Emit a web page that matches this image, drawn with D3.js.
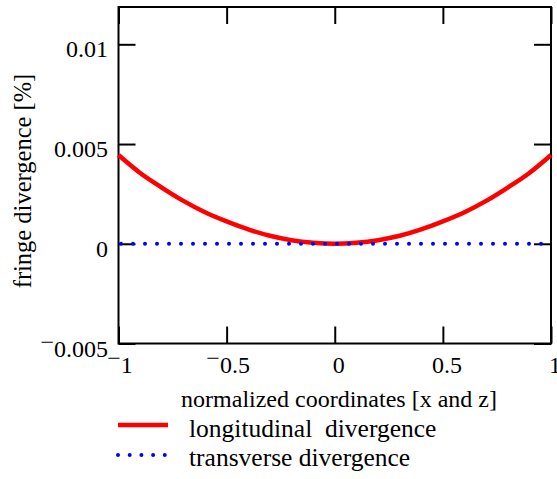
<!DOCTYPE html>
<html><head><meta charset="utf-8"><script src="https://cdn.jsdelivr.net/npm/d3@7"></script></head>
<body style="margin:0">
<svg width="557" height="479"></svg>
<script>
// normalized coordinate
const xValues = [-1, -0.9, -0.8, -0.7, -0.6, -0.5, -0.4, -0.3, -0.2, -0.1, 0,
                 0.1, 0.2, 0.3, 0.4, 0.5, 0.6, 0.7, 0.8, 0.9, 1];
// fringe divergence [%]
const longitudinal = [0.00445, 0.00355, 0.00282, 0.00215, 0.00158, 0.00112, 0.00072, 0.0004, 0.00018, 0.00005, 0,
                      0.00005, 0.00018, 0.0004, 0.00072, 0.00112, 0.00158, 0.00215, 0.00282, 0.00355, 0.00445];
const transverse = [0, 0, 0, 0, 0, 0, 0, 0, 0, 0, 0,
                    0, 0, 0, 0, 0, 0, 0, 0, 0, 0];

const xTicks = [-1, -0.5, 0, 0.5, 1];
const xTickLabels = ["-1", "-0.5", "0", "0.5", "1"];
const yTicks = [-0.005, 0, 0.005, 0.01];
const yTickLabels = ["-0.005", "0", "0.005", "0.01"];

const plotLeft = 118.5, plotRight = 551, plotTop = 7, plotBottom = 343.5;

const svg = d3.select("svg");

const x = d3.scaleLinear().domain([-1, 1]).range([plotLeft, plotRight]);
const y = d3.scaleLinear().domain([-0.005, 0.01187]).range([plotBottom, plotTop]);

// all text in one serif face
function serif(t, size) {
    return t.style("font-family", `"Liberation Serif"`).style("font-size", (size || 24) + "px");
}

// tick labels with a raised minus sign, the way the original draws them
function minusLabel(sel, labels) {
    sel.selectAll(".tick text").each(function (d, i) {
        const t = d3.select(this).text("");
        const s = labels[i];
        if (s[0] === "-") {
            t.append("tspan").attr("dy", -7).text("\u2212");
            t.append("tspan").attr("dy", 7).text(s.slice(1));
        } else {
            t.text(s);
        }
    });
}

// axes, ticks pointing inward
const gLeft = svg.append("g")
    .attr("transform", `translate(${plotLeft},0)`)
    .call(d3.axisLeft(y).tickValues(yTicks).tickSize(-17).tickPadding(10.5).tickFormat((d, i) => yTickLabels[i]));
gLeft.selectAll(".tick text").attr("dy", null).attr("y", 12.5);
minusLabel(gLeft, yTickLabels);

const gBottom = svg.append("g")
    .attr("transform", `translate(0,${plotBottom})`)
    .call(d3.axisBottom(x).tickValues(xTicks).tickSize(-17).tickFormat((d, i) => xTickLabels[i]));
gBottom.selectAll(".tick text").attr("dy", null).attr("y", 29.5)
    .attr("x", (d, i) => xTickLabels[i][0] === "-" ? 1 : 3.5);
minusLabel(gBottom, xTickLabels);

svg.append("g")
    .attr("transform", `translate(${plotRight},0)`)
    .call(d3.axisRight(y).tickValues(yTicks).tickSize(-17).tickFormat(""));

svg.append("g")
    .attr("transform", `translate(0,${plotTop})`)
    .call(d3.axisTop(x).tickValues(xTicks).tickSize(-17).tickFormat(""));

svg.selectAll(".domain").remove();
svg.selectAll("g").attr("font-family", null).attr("font-size", null);
svg.selectAll(".tick line").attr("stroke", "#000").attr("stroke-width", 2);
serif(svg.selectAll(".tick text")).attr("fill", "#000");

// frame
svg.append("rect")
    .attr("x", plotLeft).attr("y", plotTop)
    .attr("width", plotRight - plotLeft).attr("height", plotBottom - plotTop)
    .attr("fill", "none").attr("stroke", "#000").attr("stroke-width", 2);

// series
const line = d3.line().x((d, i) => x(xValues[i])).y(d => y(d));

svg.append("path")
    .datum(longitudinal)
    .attr("d", line.curve(d3.curveMonotoneX))
    .attr("fill", "none").attr("stroke", "#ff0000").attr("stroke-width", 4.5);

svg.append("path")
    .datum(transverse)
    .attr("d", d3.line().x((d, i) => x(xValues[i])).y(d => y(d)))
    .attr("fill", "none").attr("stroke", "#0000ff").attr("stroke-width", 4)
    .attr("stroke-linecap", "round")
    .attr("stroke-dasharray", "0 12").attr("stroke-dashoffset", 9.5);

// axis titles
serif(svg.append("text"), 24.5)
    .attr("transform", "translate(31,181) rotate(-90)")
    .attr("text-anchor", "middle")
    .text("fringe divergence [%]");

serif(svg.append("text"))
    .attr("x", 339).attr("y", 407)
    .attr("text-anchor", "middle")
    .text("normalized coordinates [x and z]");

// legend
const legend = [
    { name: "longitudinal\u00a0 divergence", color: "#ff0000", dash: null, width: 4.5, cy: 425, ty: 437 },
    { name: "transverse divergence", color: "#0000ff", dash: "0 11.7", width: 4, cy: 455, ty: 466 }
];
legend.forEach(l => {
    const ln = svg.append("line")
        .attr("x1", 118).attr("x2", 168).attr("y1", l.cy).attr("y2", l.cy)
        .attr("stroke", l.color).attr("stroke-width", l.width);
    if (l.dash) ln.attr("stroke-dasharray", l.dash).attr("stroke-linecap", "round");
    serif(svg.append("text"), 25.5)
        .attr("x", 189).attr("y", l.ty)
        .text(l.name);
});
</script></body></html>
